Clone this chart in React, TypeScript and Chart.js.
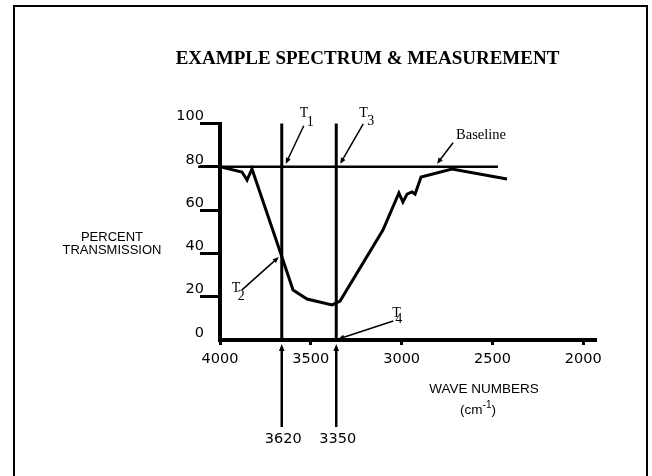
import React, { useEffect, useRef } from "react";
import { Chart, registerables } from "chart.js";

Chart.register(...registerables);

// ---------- data ----------
const chartTitle = "EXAMPLE SPECTRUM & MEASUREMENT";
const yAxisTitle = ["PERCENT", "TRANSMISSION"];
const xAxisTitle = "WAVE NUMBERS";
const xTicks = [4000, 3500, 3000, 2500, 2000];
const yTicks = [0, 20, 40, 60, 80, 100];

// spectrum trace (wave number, % transmission)
const waveNumbers = [4000, 3879, 3851, 3824, 3659, 3598, 3521, 3383, 3339, 3103, 3015, 2993, 2970, 2943, 2926, 2893, 2723, 2420];
const transmission = [80, 77.6, 73.9, 79.0, 38.3, 23.1, 18.9, 16.2, 18.0, 50.8, 67.9, 63.7, 67.4, 68.4, 67.4, 75.3, 79.0, 74.4];

// baseline
const baselineValue = 80;
const baselineFrom = 4120;
const baselineTo = 2470;

// vertical measurement lines (as drawn) and their printed labels
const markerPositions = [3660, 3360];
const markerLabels = ["3620", "3350"];
const markerBottom = 0;
const markerTop = 100;

// annotation targets (wave number, % transmission)
const t1Target = [3660, 80];
const t2Target = [3660, 38.3];
const t3Target = [3360, 80];
const t4Target = [3360, 0];
const baselineLabelTarget = [2805, 80];

const BLACK = "#000";
const SERIF = "'Liberation Serif', 'Times New Roman', serif";
const SANS = "'Liberation Sans', Arial, sans-serif";
const NUM = "'DejaVu Sans', sans-serif";

function drawArrow(ctx: CanvasRenderingContext2D, x1: number, y1: number, x2: number, y2: number, w = 1.5, L = 6, W = 2.6) {
  ctx.save();
  ctx.strokeStyle = BLACK;
  ctx.fillStyle = BLACK;
  ctx.lineWidth = w;
  const a = Math.atan2(y2 - y1, x2 - x1);
  ctx.beginPath();
  ctx.moveTo(x1, y1);
  ctx.lineTo(x2 - (L - 1) * Math.cos(a), y2 - (L - 1) * Math.sin(a));
  ctx.stroke();
  ctx.beginPath();
  ctx.moveTo(x2, y2);
  ctx.lineTo(x2 - L * Math.cos(a) + W * Math.sin(a), y2 - L * Math.sin(a) - W * Math.cos(a));
  ctx.lineTo(x2 - L * Math.cos(a) - W * Math.sin(a), y2 - L * Math.sin(a) + W * Math.cos(a));
  ctx.closePath();
  ctx.fill();
  ctx.restore();
}

function drawTLabel(ctx: CanvasRenderingContext2D, sub: string, tx: number, ty: number, sx: number, sy: number) {
  ctx.save();
  ctx.fillStyle = BLACK;
  ctx.font = `14px ${SERIF}`;
  ctx.textAlign = "left";
  ctx.textBaseline = "alphabetic";
  ctx.fillText("T", tx, ty);
  ctx.fillText(sub, sx, sy);
  ctx.restore();
}

const annotationPlugin = {
  id: "spectrumAnnotations",
  afterDraw(chart: any) {
    const { ctx, scales, chartArea } = chart;
    const xs = scales.x;
    const ys = scales.y;
    const px = (v: number) => xs.getPixelForValue(v);
    const py = (v: number) => ys.getPixelForValue(v);

    ctx.save();
    // frame
    ctx.strokeStyle = BLACK;
    ctx.lineWidth = 2;
    ctx.strokeRect(14, 6, 633, 490);

    // title
    ctx.fillStyle = BLACK;
    ctx.font = `bold 19px ${SERIF}`;
    ctx.textAlign = "center";
    ctx.textBaseline = "alphabetic";
    ctx.fillText(chartTitle, 367.5, 64);

    // y axis title
    ctx.font = `13px ${SANS}`;
    ctx.textBaseline = "middle";
    ctx.fillText(yAxisTitle[0], 112, 237);
    ctx.fillText(yAxisTitle[1], 112, 250);

    // x axis title
    ctx.font = `13.5px ${SANS}`;
    ctx.fillText(xAxisTitle, 484, 389);
    // (cm-1)
    ctx.textAlign = "left";
    ctx.font = `13.5px ${SANS}`;
    const p1 = "(cm";
    const p2 = "-1";
    const p3 = ")";
    const w1 = ctx.measureText(p1).width;
    ctx.font = `10px ${SANS}`;
    const w2 = ctx.measureText(p2).width;
    ctx.font = `13.5px ${SANS}`;
    const w3 = ctx.measureText(p3).width;
    let cx = 478 - (w1 + w2 + w3) / 2;
    ctx.fillText(p1, cx, 410);
    cx += w1;
    ctx.font = `10px ${SANS}`;
    ctx.fillText(p2, cx, 405);
    cx += w2;
    ctx.font = `13.5px ${SANS}`;
    ctx.fillText(p3, cx, 410);

    // T1
    {
      const x = px(t1Target[0]);
      const y = py(t1Target[1]);
      drawTLabel(ctx, "1", x + 18, y - 50, x + 25, y - 41);
      drawArrow(ctx, x + 22, y - 41, x + 4, y - 3);
    }
    // T3
    {
      const x = px(t3Target[0]);
      const y = py(t3Target[1]);
      drawTLabel(ctx, "3", x + 23, y - 50, x + 31, y - 42);
      drawArrow(ctx, x + 27, y - 43, x + 4, y - 3);
    }
    // T2
    {
      const x = px(t2Target[0]);
      const y = py(t2Target[1]);
      drawTLabel(ctx, "2", x - 50, y + 35, x - 44, y + 43);
      drawArrow(ctx, x - 40, y + 33, x - 3, y);
    }
    // T4
    {
      const x = px(t4Target[0]);
      const y = py(t4Target[1]);
      drawTLabel(ctx, "4", x + 56, y - 23, x + 59, y - 17);
      drawArrow(ctx, x + 57, y - 19, x + 2, y - 1);
    }
    // Baseline label
    {
      const x = px(baselineLabelTarget[0]);
      const y = py(baselineLabelTarget[1]);
      ctx.font = `14.5px ${SERIF}`;
      ctx.textAlign = "left";
      ctx.textBaseline = "alphabetic";
      ctx.fillText("Baseline", x + 19, y - 28);
      drawArrow(ctx, x + 16, y - 24, x, y - 3);
    }

    // arrows under the axis to the measurement values
    markerPositions.forEach((m, i) => {
      const x = px(m);
      const bottom = chartArea.bottom;
      drawArrow(ctx, x, bottom + 87, x, bottom + 4, 2.5, 7, 2.8);
      ctx.font = `14.5px ${NUM}`;
      ctx.textAlign = "center";
      ctx.textBaseline = "middle";
      ctx.fillStyle = BLACK;
      ctx.fillText(markerLabels[i], x + 1.5, bottom + 99);
    });
    ctx.restore();
  },
};

export default function App() {
  const ref = useRef<HTMLCanvasElement>(null);

  useEffect(() => {
    const canvas = ref.current;
    if (!canvas) return;

    const lineStyle = {
      borderColor: BLACK,
      pointRadius: 0,
      tension: 0,
      fill: false,
    };

    const datasets: any[] = [
      {
        ...lineStyle,
        label: "Spectrum",
        data: waveNumbers.map((w, i) => ({ x: w, y: transmission[i] })),
        borderWidth: 3,
      },
      {
        ...lineStyle,
        label: "Baseline",
        data: [
          { x: baselineFrom, y: baselineValue },
          { x: baselineTo, y: baselineValue },
        ],
        borderWidth: 2.5,
        clip: false,
      },
      ...markerPositions.map((m, i) => ({
        ...lineStyle,
        label: markerLabels[i],
        data: [
          { x: m, y: markerBottom },
          { x: m, y: markerTop },
        ],
        borderWidth: 3,
        clip: false,
      })),
    ];

    const chart = new Chart(canvas, {
      type: "line",
      data: { datasets },
      options: {
        animation: false,
        responsive: false,
        devicePixelRatio: 1,
        layout: { padding: { top: 123.5, right: 56, bottom: 0, left: 0 } },
        plugins: {
          legend: { display: false },
          tooltip: { enabled: false },
          title: { display: false },
        },
        scales: {
          x: {
            type: "linear",
            position: "bottom",
            reverse: true,
            min: 1930,
            max: 4000,
            afterBuildTicks: (s: any) => {
              s.ticks = xTicks.map((v) => ({ value: v }));
            },
            afterFit: (s: any) => {
              s.height = 136;
            },
            ticks: {
              color: BLACK,
              font: { family: NUM, size: 14.5 },
              padding: 6,
              maxRotation: 0,
              autoSkip: false,
              callback: (v: any) => String(v),
            },
            grid: {
              drawOnChartArea: false,
              tickLength: 5,
              tickWidth: 3,
              tickColor: BLACK,
              color: BLACK,
            },
            border: { display: true, width: 4, color: BLACK },
          },
          y: {
            type: "linear",
            min: 0,
            max: 100,
            afterBuildTicks: (s: any) => {
              s.ticks = yTicks.map((v) => ({ value: v }));
            },
            afterFit: (s: any) => {
              s.width = 220;
            },
            ticks: {
              color: BLACK,
              font: { family: NUM, size: 14.5 },
              padding: -4,
              labelOffset: -7,
              callback: (v: any) => String(v),
            },
            grid: {
              drawOnChartArea: false,
              tickLength: 20,
              lineWidth: 3,
              color: BLACK,
              tickColor: (c: any) => (c.tick && c.tick.value === 0 ? "rgba(0,0,0,0)" : BLACK),
            },
            border: { display: true, width: 4, color: BLACK },
          },
        },
      } as any,
      plugins: [annotationPlugin],
    });

    return () => chart.destroy();
  }, []);

  return (
    <div style={{ position: "fixed", left: 0, top: 0, width: 652, height: 476, background: "#fff" }}>
      <canvas ref={ref} width={652} height={476} style={{ display: "block", width: 652, height: 476 }} />
    </div>
  );
}
